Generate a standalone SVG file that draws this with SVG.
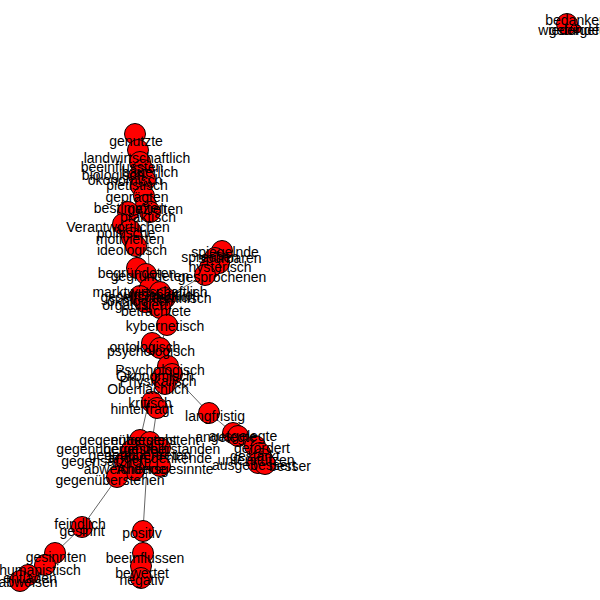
<svg xmlns="http://www.w3.org/2000/svg" width="600" height="600" viewBox="0 0 600 600">
<style>
.n circle{fill:#ff0000;stroke:#000;stroke-width:1}
#labels text{font-family:"Liberation Sans",Arial,sans-serif;font-size:14px;fill:#000;text-anchor:middle}
#edges line{stroke:#666;stroke-width:1}
</style>
<rect width="600" height="600" fill="#fff"/>
<g id="edges">
<line x1="567" y1="24" x2="577" y2="29"/>
<line x1="135" y1="134" x2="138" y2="150"/>
<line x1="138" y1="150" x2="140" y2="162"/>
<line x1="140" y1="162" x2="143" y2="170"/>
<line x1="143" y1="170" x2="141" y2="186"/>
<line x1="141" y1="186" x2="144" y2="196"/>
<line x1="144" y1="196" x2="146" y2="205"/>
<line x1="146" y1="205" x2="128" y2="212"/>
<line x1="146" y1="205" x2="150" y2="288"/>
<line x1="128" y1="212" x2="123" y2="224"/>
<line x1="123" y1="224" x2="132" y2="238"/>
<line x1="132" y1="238" x2="136" y2="246"/>
<line x1="136" y1="246" x2="137" y2="268"/>
<line x1="137" y1="268" x2="150" y2="288"/>
<line x1="150" y1="288" x2="160" y2="308"/>
<line x1="165" y1="298" x2="205" y2="275"/>
<line x1="160" y1="308" x2="167" y2="325"/>
<line x1="167" y1="325" x2="160" y2="348"/>
<line x1="160" y1="348" x2="168" y2="366"/>
<line x1="165" y1="384" x2="152" y2="402"/>
<line x1="172" y1="374" x2="209" y2="413"/>
<line x1="209" y1="413" x2="233" y2="433"/>
<line x1="233" y1="433" x2="260" y2="455"/>
<line x1="148" y1="405" x2="140" y2="440"/>
<line x1="157" y1="408" x2="152" y2="442"/>
<line x1="117" y1="478" x2="82" y2="527"/>
<line x1="82" y1="527" x2="55" y2="553"/>
<line x1="55" y1="553" x2="45" y2="565"/>
<line x1="45" y1="565" x2="28" y2="575"/>
<line x1="28" y1="575" x2="20" y2="582"/>
<line x1="147" y1="466" x2="143" y2="531"/>
<line x1="143" y1="531" x2="143" y2="553"/>
<line x1="143" y1="553" x2="141" y2="566"/>
<line x1="141" y1="566" x2="141" y2="578"/>
</g>
<g id="nodes">
<g id="n1" class="n"><circle cx="567" cy="24" r="10.5"/></g>
<g id="n2" class="n"><circle cx="577" cy="29" r="4"/></g>
<g id="n3" class="n"><circle cx="574" cy="28" r="3"/></g>
<g id="n10" class="n"><circle cx="135" cy="134" r="10.5"/></g>
<g id="n11" class="n"><circle cx="138" cy="150" r="10.5"/></g>
<g id="n12" class="n"><circle cx="140" cy="162" r="10.5"/></g>
<g id="n13" class="n"><circle cx="143" cy="170" r="10.5"/></g>
<g id="n14" class="n"><circle cx="139" cy="176" r="10.5"/></g>
<g id="n15" class="n"><circle cx="145" cy="180" r="10.5"/></g>
<g id="n16" class="n"><circle cx="141" cy="186" r="10.5"/></g>
<g id="n17" class="n"><circle cx="144" cy="196" r="10.5"/></g>
<g id="n18" class="n"><circle cx="146" cy="205" r="10.5"/></g>
<g id="n19" class="n"><circle cx="150" cy="212" r="10.5"/></g>
<g id="n20" class="n"><circle cx="128" cy="212" r="10.5"/></g>
<g id="n21" class="n"><circle cx="123" cy="224" r="10.5"/></g>
<g id="n22" class="n"><circle cx="130" cy="230" r="10.5"/></g>
<g id="n23" class="n"><circle cx="132" cy="238" r="10.5"/></g>
<g id="n24" class="n"><circle cx="136" cy="246" r="10.5"/></g>
<g id="n25" class="n"><circle cx="137" cy="268" r="10.5"/></g>
<g id="n26" class="n"><circle cx="146" cy="274" r="10.5"/></g>
<g id="n30" class="n"><circle cx="222" cy="251" r="10.5"/></g>
<g id="n31" class="n"><circle cx="215" cy="258" r="10.5"/></g>
<g id="n32" class="n"><circle cx="219" cy="263" r="10.5"/></g>
<g id="n33" class="n"><circle cx="210" cy="268" r="10.5"/></g>
<g id="n34" class="n"><circle cx="205" cy="275" r="10.5"/></g>
<g id="n40" class="n"><circle cx="150" cy="288" r="10.5"/></g>
<g id="n41" class="n"><circle cx="160" cy="292" r="10.5"/></g>
<g id="n42" class="n"><circle cx="140" cy="296" r="10.5"/></g>
<g id="n43" class="n"><circle cx="165" cy="298" r="10.5"/></g>
<g id="n44" class="n"><circle cx="145" cy="302" r="10.5"/></g>
<g id="n45" class="n"><circle cx="155" cy="304" r="10.5"/></g>
<g id="n46" class="n"><circle cx="160" cy="308" r="10.5"/></g>
<g id="n47" class="n"><circle cx="167" cy="325" r="10.5"/></g>
<g id="n48" class="n"><circle cx="152" cy="343" r="10.5"/></g>
<g id="n49" class="n"><circle cx="160" cy="348" r="10.5"/></g>
<g id="n50" class="n"><circle cx="168" cy="366" r="10.5"/></g>
<g id="n51" class="n"><circle cx="172" cy="374" r="10.5"/></g>
<g id="n52" class="n"><circle cx="162" cy="378" r="10.5"/></g>
<g id="n53" class="n"><circle cx="165" cy="384" r="10.5"/></g>
<g id="n54" class="n"><circle cx="152" cy="402" r="10.5"/></g>
<g id="n55" class="n"><circle cx="157" cy="408" r="10.5"/></g>
<g id="n56" class="n"><circle cx="209" cy="413" r="10.5"/></g>
<g id="n60" class="n"><circle cx="233" cy="433" r="10.5"/></g>
<g id="n61" class="n"><circle cx="238" cy="436" r="10.5"/></g>
<g id="n62" class="n"><circle cx="255" cy="446" r="10.5"/></g>
<g id="n63" class="n"><circle cx="260" cy="453" r="10.5"/></g>
<g id="n64" class="n"><circle cx="262" cy="459" r="10.5"/></g>
<g id="n65" class="n"><circle cx="258" cy="463" r="10.5"/></g>
<g id="n66" class="n"><circle cx="265" cy="464" r="10.5"/></g>
<g id="n70" class="n"><circle cx="140" cy="440" r="10.5"/></g>
<g id="n71" class="n"><circle cx="150" cy="442" r="10.5"/></g>
<g id="n72" class="n"><circle cx="132" cy="450" r="10.5"/></g>
<g id="n73" class="n"><circle cx="160" cy="448" r="10.5"/></g>
<g id="n74" class="n"><circle cx="142" cy="455" r="10.5"/></g>
<g id="n75" class="n"><circle cx="125" cy="462" r="10.5"/></g>
<g id="n76" class="n"><circle cx="152" cy="460" r="10.5"/></g>
<g id="n77" class="n"><circle cx="134" cy="470" r="10.5"/></g>
<g id="n78" class="n"><circle cx="160" cy="466" r="10.5"/></g>
<g id="n79" class="n"><circle cx="117" cy="477" r="10.5"/></g>
<g id="n80" class="n"><circle cx="82" cy="527" r="10.5"/></g>
<g id="n81" class="n"><circle cx="84" cy="531" r="3"/></g>
<g id="n82" class="n"><circle cx="55" cy="553" r="10.5"/></g>
<g id="n83" class="n"><circle cx="45" cy="565" r="10.5"/></g>
<g id="n84" class="n"><circle cx="28" cy="575" r="10.5"/></g>
<g id="n85" class="n"><circle cx="20" cy="581" r="10.5"/></g>
<g id="n86" class="n"><circle cx="143" cy="531" r="10.5"/></g>
<g id="n87" class="n"><circle cx="143" cy="553" r="10.5"/></g>
<g id="n88" class="n"><circle cx="141" cy="566" r="10.5"/></g>
<g id="n89" class="n"><circle cx="141" cy="578" r="10.5"/></g>
</g>
<g id="labels">
<text id="n1-label" x="576" y="25">bedanken</text>
<text id="n2-label" x="588" y="35">wiedergefunden</text>
<text id="n3-label" x="578" y="35">gefunden</text>
<text id="n10-label" x="136" y="146">genutzte</text>
<text id="n11-label" x="137" y="163">landwirtschaftlich</text>
<text id="n12-label" x="122" y="172">beeinflussten</text>
<text id="n13-label" x="150" y="177">bäuerlich</text>
<text id="n14-label" x="113" y="180">biologisch</text>
<text id="n15-label" x="125" y="185">ökonomisch</text>
<text id="n16-label" x="137" y="190">pietistisch</text>
<text id="n17-label" x="137" y="202">geprägten</text>
<text id="n18-label" x="130" y="213">bestimmten</text>
<text id="n19-label" x="155" y="214">gezielten</text>
<text id="n20-label" x="148" y="222">praktisch</text>
<text id="n21-label" x="118" y="232">Verantwortlichen</text>
<text id="n22-label" x="126" y="238">politische</text>
<text id="n23-label" x="130" y="244">motivierten</text>
<text id="n24-label" x="132" y="255">ideologisch</text>
<text id="n25-label" x="137" y="278">begründeten</text>
<text id="n26-label" x="150" y="281">gegründeten</text>
<text id="n30-label" x="225" y="257">spiegelnde</text>
<text id="n31-label" x="210" y="262">sprechen</text>
<text id="n32-label" x="230" y="263">spürbaren</text>
<text id="n33-label" x="220" y="272">hysterisch</text>
<text id="n34-label" x="222" y="282">gesprochenen</text>
<text id="n40-label" x="150" y="297">marktwirtschaftlich</text>
<text id="n41-label" x="160" y="300">wirtschaftlich</text>
<text id="n42-label" x="148" y="302">gesellschaftlich</text>
<text id="n43-label" x="182" y="303">technisch</text>
<text id="n44-label" x="140" y="306">ökologisch</text>
<text id="n45-label" x="135" y="310">organisiert</text>
<text id="n46-label" x="156" y="316">betrachtete</text>
<text id="n47-label" x="165" y="331">kybernetisch</text>
<text id="n48-label" x="145" y="352">ontologisch</text>
<text id="n49-label" x="151" y="356">psychologisch</text>
<text id="n50-label" x="160" y="375">Psychologisch</text>
<text id="n51-label" x="155" y="381">Ökonomisch</text>
<text id="n52-label" x="158" y="386">Physikalisch</text>
<text id="n53-label" x="148" y="394">Oberflächlich</text>
<text id="n54-label" x="150" y="408">kritisch</text>
<text id="n55-label" x="142" y="414">hinterfragt</text>
<text id="n56-label" x="215" y="421">langfristig</text>
<text id="n60-label" x="226" y="442">angelegte</text>
<text id="n61-label" x="243" y="441">ausgelegte</text>
<text id="n62-label" x="262" y="453">gefördert</text>
<text id="n63-label" x="255" y="461">gestärkt</text>
<text id="n64-label" x="256" y="465">unterstützen</text>
<text id="n65-label" x="254" y="470">ausgebessert</text>
<text id="n66-label" x="290" y="471">besser</text>
<text id="n70-label" x="128" y="445">gegenübersteht</text>
<text id="n71-label" x="155" y="445">entgegensteht</text>
<text id="n72-label" x="112" y="454">gegenübergestellt</text>
<text id="n73-label" x="162" y="454">gegenüberstanden</text>
<text id="n74-label" x="140" y="460">gegenübertreten</text>
<text id="n75-label" x="104" y="466">gegensätzlich</text>
<text id="n76-label" x="160" y="463">andersdenkende</text>
<text id="n77-label" x="125" y="474">abweichende</text>
<text id="n78-label" x="165" y="474">Andersgesinnte</text>
<text id="n79-label" x="110" y="485">gegenüberstehen</text>
<text id="n80-label" x="80" y="529">feindlich</text>
<text id="n81-label" x="82" y="536">gesinnt</text>
<text id="n82-label" x="56" y="562">gesinnten</text>
<text id="n83-label" x="40" y="575">humanistisch</text>
<text id="n84-label" x="30" y="583">entladen</text>
<text id="n85-label" x="28" y="587">abweisen</text>
<text id="n86-label" x="142" y="538">positiv</text>
<text id="n87-label" x="145" y="563">beeinflussen</text>
<text id="n88-label" x="142" y="578">bewertet</text>
<text id="n89-label" x="142" y="585">negativ</text>
</g>
</svg>
